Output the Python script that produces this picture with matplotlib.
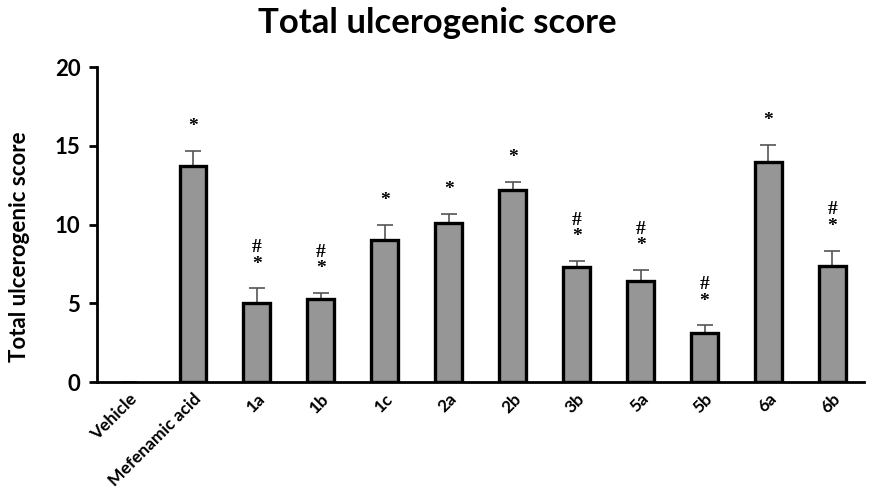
import numpy as np
import matplotlib
matplotlib.use("Agg")
import matplotlib.pyplot as plt

groups = ['Vehicle', 'Mefenamic acid', '1a', '1b', '1c', '2a', '2b', '3b', '5a', '5b', '6a', '6b']
scores = [0, 13.7, 5.0, 5.3, 9.0, 10.1, 12.2, 7.3, 6.4, 3.1, 14.0, 7.4]
sem = [0, 1.0, 0.95, 0.35, 1.0, 0.6, 0.5, 0.4, 0.7, 0.5, 1.05, 0.95]
marks = ['', '*', '#\n*', '#\n*', '*', '*', '*', '#\n*', '#\n*', '#\n*', '*', '#\n*']

fig = plt.figure(figsize=(8.74, 4.93), dpi=100)
ax = fig.add_axes([0.111, 0.225, 0.878, 0.639])

x = np.arange(len(groups))
bars = ax.bar(x, scores, width=0.42, color='#969696', edgecolor='black', linewidth=2.4, zorder=2)
for b in bars:
    if b.get_height() == 0:
        b.set_visible(False)
ax.errorbar(x, scores, yerr=[np.zeros(len(sem)), sem], fmt='none', ecolor='#555555',
            elinewidth=1.2, capsize=6, capthick=1.2, zorder=1)

for xi, s, e, m in zip(x, scores, sem, marks):
    if m:
        ax.text(xi, s + e + 1.0, m, ha='center', va='bottom', fontsize=14,
                family='Liberation Serif', fontweight='bold', linespacing=0.95)

ax.set_xlim(-0.5, len(groups) - 0.5)
ax.set_ylim(0, 20)
ax.set_yticks([0, 5, 10, 15, 20])
ax.set_xticks(x)
ax.set_xticklabels(groups, rotation=45, ha='right', rotation_mode='anchor',
                   fontsize=12.5, family='Lato', fontweight='bold')
for lbl in ax.get_yticklabels():
    lbl.set_family('Lato')
    lbl.set_fontweight('bold')
    lbl.set_fontsize(16)
ax.tick_params(axis='x', length=0, pad=6)
ax.tick_params(axis='y', length=6, width=2, direction='out', pad=6)

ax.spines['top'].set_visible(False)
ax.spines['right'].set_visible(False)
ax.spines['left'].set_linewidth(2)
ax.spines['bottom'].set_linewidth(2)

ax.set_ylabel('Total ulcerogenic score', fontsize=16, family='Lato', fontweight='bold')
ax.yaxis.set_label_coords(-0.087, 0.43)
fig.suptitle('Total ulcerogenic score', fontsize=25, family='Lato', fontweight='bold', y=0.985)

fig.savefig('out.png', dpi=100)
